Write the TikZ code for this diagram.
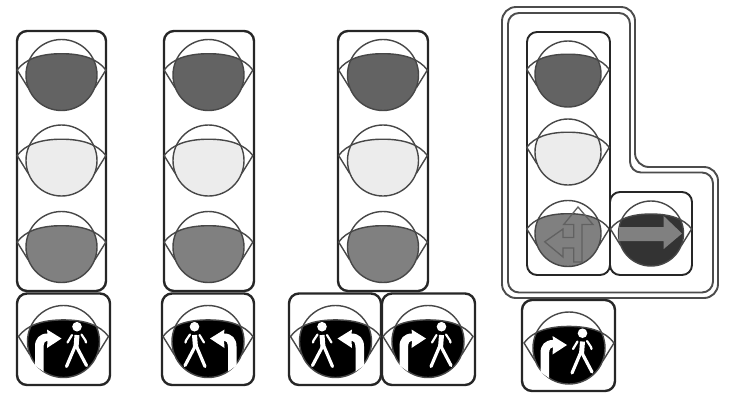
\documentclass[tikz,border=0pt]{standalone}
\definecolor{ink}{gray}{0.15}
\definecolor{lampdark}{gray}{0.39}
\definecolor{lamplight}{gray}{0.925}
\definecolor{lampmid}{gray}{0.5}
\tikzset{
  px/.style={x=1pt,y=-1pt},
  housing/.style={draw=ink,line width=2.4pt,rounded corners=10pt,fill=white},
  thinhousing/.style={draw=ink,line width=1.9pt,rounded corners=10pt,fill=white},
  lampline/.style={draw=black!72,line width=1.4pt},
  shell/.style={draw=black!70,line width=1.9pt,line join=round},
  figure/.style={draw=white,line cap=round,line join=round},
}
\newcommand{\lenstop}{(-1.25,-.14) .. controls (-1.02,-.45) and (-.6,-.6) .. (0,-.6) .. controls (.6,-.6) and (1.02,-.45) .. (1.25,-.14)}
% #1 cx, #2 cy, #3 r, #4 fill
\newcommand{\lamp}[4]{%
\begin{scope}[shift={(#1,#2)},x=#3pt,y=-#3pt]
  \begin{scope}
    \clip (0,0) circle[radius=1];
    \fill[#4] \lenstop -- (1.25,1.1) -- (-1.25,1.1) -- cycle;
  \end{scope}
  \draw[lampline] (0,0) circle[radius=1];
  \draw[lampline] (-.94,.36) -- \lenstop -- (.94,.36);
\end{scope}}
% #1 cx, #2 cy, #3 xscale (1 or -1)
\newcommand{\pedarrow}[3]{%
\begin{scope}[shift={(#1,#2)},xscale=#3]
  \fill[white] (-28.5,24) -- (-28.5,5) .. controls (-28.5,-3) and (-24,-8) .. (-16,-8) -- (-16.5,-12) -- (-2,-3) -- (-16.5,6.5) -- (-16,-1) .. controls (-18,-1) and (-20,1) .. (-20,6) -- (-20,30) -- cycle;
  \fill[white] (13.5,-14.8) circle[radius=4.8];
  \draw[figure,line width=5pt,line cap=butt] (13.5,-6.5) -- (12.5,6);
  \draw[figure,line width=3.2pt] (11.5,5) -- (3,25);
  \draw[figure,line width=3.2pt] (13,5) -- (23,24);
  \draw[figure,line width=2.2pt] (8.5,-6.5) -- (4,1);
  \draw[figure,line width=2.2pt] (18,-7) -- (22,-1) -- (22.5,1);
\end{scope}}
\begin{document}
\begin{tikzpicture}[px]
\useasboundingbox (0,0) rectangle (735,392);
\fill[white] (0,0) rectangle (735,392);

% L-shaped double outline
\draw[shell,rounded corners=14pt] (502,298) -- (502,7) -- (635,7) -- (635,167) -- (718,167) -- (718,298) -- cycle;
\draw[shell,rounded corners=11pt] (508,292.5) -- (508,13) -- (630,13) -- (630,172.5) -- (713,172.5) -- (713,292.5) -- cycle;

% column 1
\draw[housing] (17,31) rectangle (106,291);
\lamp{61.5}{75}{35.5}{lampdark}
\lamp{61.5}{160.5}{35.5}{lamplight}
\lamp{61.5}{247}{35.5}{lampmid}
\draw[housing] (17,293.5) rectangle (110,385);
\lamp{63.5}{341.5}{36}{black}
\pedarrow{63.5}{341.5}{1}

% column 2
\draw[housing] (164,31) rectangle (254,291);
\lamp{208.5}{75}{35.5}{lampdark}
\lamp{208.5}{160.5}{35.5}{lamplight}
\lamp{208.5}{247}{35.5}{lampmid}
\draw[housing] (162,293.5) rectangle (254,385);
\lamp{208}{341.5}{36}{black}
\pedarrow{208}{341.5}{-1}

% column 3
\draw[housing] (338,31) rectangle (428,291);
\lamp{383}{75}{35.5}{lampdark}
\lamp{383}{160.5}{35.5}{lamplight}
\lamp{383}{247}{35.5}{lampmid}
\draw[housing] (289,293.5) rectangle (381,385);
\lamp{335.5}{341.5}{36}{black}
\pedarrow{335.5}{341.5}{-1}
\draw[housing] (382,293.5) rectangle (475,385);
\lamp{428}{341.5}{36}{black}
\pedarrow{428}{341.5}{1}

% column 4
\draw[thinhousing] (527,32) rectangle (610,275);
\lamp{568}{74}{33}{lampdark}
\lamp{568}{152}{33}{lamplight}
\lamp{568}{233.5}{33}{lampmid}
\draw[draw=black!62,line width=1.3pt,line join=miter]
  (578,207) -- (593,224.5) -- (582,224.5) -- (582,262) -- (573.7,262) -- (573.7,248) -- (563,248) -- (563,257) -- (544.7,241.8) -- (563,229) -- (563,237.5) -- (573.7,237.5) -- (573.7,224.5) -- (563.7,224.5) -- cycle;
\draw[thinhousing] (610,192) rectangle (692,275);
\lamp{651}{233.5}{32.5}{black!80}
\fill[black!50]
  (619,227) -- (663.7,227) -- (663.7,216) -- (682,233.5) -- (663.7,249) -- (663.7,241) -- (619,241) -- cycle;

% bottom signal
\draw[housing] (522,300) rectangle (615,391);
\lamp{569}{348}{36}{black}
\pedarrow{569}{348}{1}
\end{tikzpicture}
\end{document}
